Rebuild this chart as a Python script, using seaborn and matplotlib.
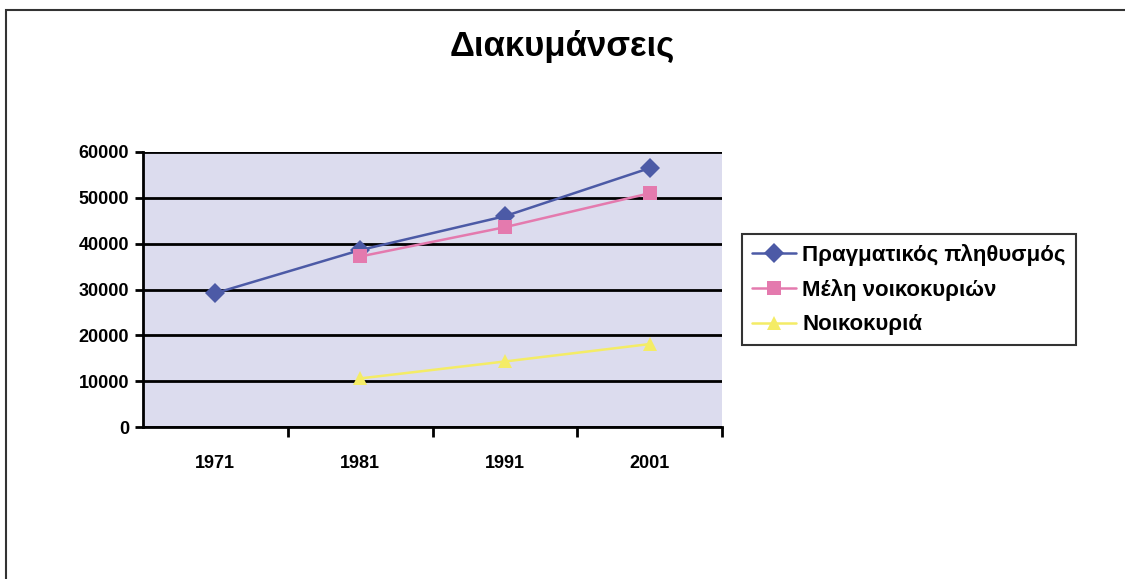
import numpy as np
import pandas as pd
import seaborn as sns
import matplotlib.pyplot as plt
from matplotlib.patches import Rectangle
from matplotlib.ticker import FixedLocator

# data
years = ["1971", "1981", "1991", "2001"]
population = [29200, 38600, 46000, 56500]
household_members = [np.nan, 37200, 43600, 51000]
households = [np.nan, 10600, 14300, 18100]

series_names = ["Πραγματικός πληθυσμός", "Μέλη νοικοκυριών", "Νοικοκυριά"]

df = pd.DataFrame({
    "year": years * 3,
    "value": population + household_members + households,
    "series": [series_names[0]] * 4 + [series_names[1]] * 4 + [series_names[2]] * 4,
}).dropna()

colors = {series_names[0]: "#4c5aa6", series_names[1]: "#e47aae", series_names[2]: "#f4ec66"}
markers = {series_names[0]: "D", series_names[1]: "s", series_names[2]: "^"}

sns.set_style("white")
plt.rcParams["font.family"] = ["Liberation Sans", "DejaVu Sans"]
plt.rcParams["text.color"] = "black"
plt.rcParams["xtick.color"] = "black"
plt.rcParams["ytick.color"] = "black"

fig = plt.figure(figsize=(11.25, 5.79), dpi=100)
ax = fig.add_axes([0.127, 0.2625, 0.515, 0.475])
ax.set_facecolor("#dcdcee")

sns.lineplot(data=df, x="year", y="value", hue="series", style="series",
             palette=colors, markers=markers, dashes=False, markersize=10,
             linewidth=1.8, markeredgewidth=0, sort=False, ax=ax)

ax.set_xlim(-0.5, 3.5)
ax.set_ylim(0, 60000)
ax.set_yticks(range(0, 60001, 10000))
ax.yaxis.grid(True, color="black", linewidth=2)
ax.set_axisbelow(True)
ax.set_xlabel("")
ax.set_ylabel("")

for side in ["top", "right"]:
    ax.spines[side].set_visible(False)
for side in ["left", "bottom"]:
    ax.spines[side].set_color("black")
    ax.spines[side].set_linewidth(2)

ax.tick_params(axis="y", which="major", direction="out", length=6, width=2,
               color="black", left=True, labelsize=13, pad=4)
ax.tick_params(axis="x", which="major", length=0, labelsize=13, pad=20)
ax.xaxis.set_minor_locator(FixedLocator([0.5, 1.5, 2.5, 3.5]))
ax.tick_params(axis="x", which="minor", direction="out", length=7, width=2,
               color="black", bottom=True)
for lbl in ax.get_xticklabels() + ax.get_yticklabels():
    lbl.set_fontweight("bold")

leg = ax.legend(loc="center left", bbox_to_anchor=(1.015, 0.5), frameon=True,
                fancybox=False, edgecolor="black", prop={"size": 16, "weight": "bold"},
                handlelength=2.0, handletextpad=0.25, borderpad=0.45, labelspacing=0.6,
                markerscale=1.0)
leg.get_frame().set_linewidth(1.5)

fig.suptitle("Διακυμάνσεις", x=0.5, y=0.948, fontsize=25, fontweight="bold")

# outer chart frame
fig.patches.append(Rectangle((0.005, -0.01), 1.0, 0.993, transform=fig.transFigure,
                             fill=False, edgecolor="#333333", linewidth=1.5))

fig.savefig("out.png", dpi=100)
